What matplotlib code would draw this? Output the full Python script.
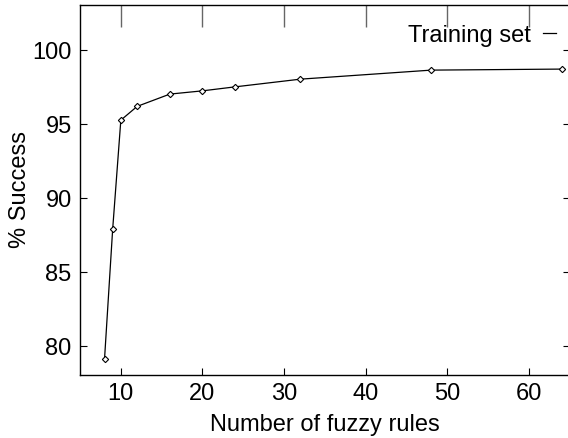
import matplotlib
matplotlib.use('Agg')
import matplotlib.pyplot as plt

plt.rcParams['font.family'] = ['Liberation Sans', 'DejaVu Sans']

# data
rules = [8, 9, 10, 12, 16, 20, 24, 32, 48, 64]
success = [79.1, 87.9, 95.27, 96.2, 97.03, 97.25, 97.52, 98.04, 98.65, 98.72]

xticks = [10, 20, 30, 40, 50, 60]
yticks = [80, 85, 90, 95, 100]

fig = plt.figure(figsize=(5.68, 4.38), dpi=100)
ax = fig.add_axes([80/568, 63/438, 490/568, 370/438])

ax.plot(rules, success, color='black', lw=0.9, marker='D', markersize=3.2,
        markerfacecolor='white', markeredgecolor='black', markeredgewidth=0.8,
        label='Training set')

ax.set_xlim(5, 65)
ax.set_ylim(78.05, 103.05)
ax.set_xticks(xticks)
ax.set_yticks(yticks)

ax.tick_params(axis='both', direction='in', length=5, width=0.8,
               labelsize=17, pad=6, top=False, right=True)
# longer grey ticks along the top edge
top = ax.secondary_xaxis('top')
top.set_xticks(xticks)
top.set_xticklabels([])
top.tick_params(direction='in', length=16, width=1.0, color='#666666')
top.spines['top'].set_visible(False)

for s in ax.spines.values():
    s.set_linewidth(1.0)

ax.set_xlabel('Number of fuzzy rules', fontsize=17, labelpad=6)
ax.set_ylabel('% Success', fontsize=17, labelpad=1)

ax.legend(loc='upper right', frameon=False, fontsize=17, markerfirst=False,
          handlelength=0.55, handletextpad=0.5, borderaxespad=0.2,
          bbox_to_anchor=(1.0, 0.985))
leg = ax.get_legend()
for h in leg.legend_handles:
    h.set_marker('')

fig.savefig('out.png', dpi=100)
